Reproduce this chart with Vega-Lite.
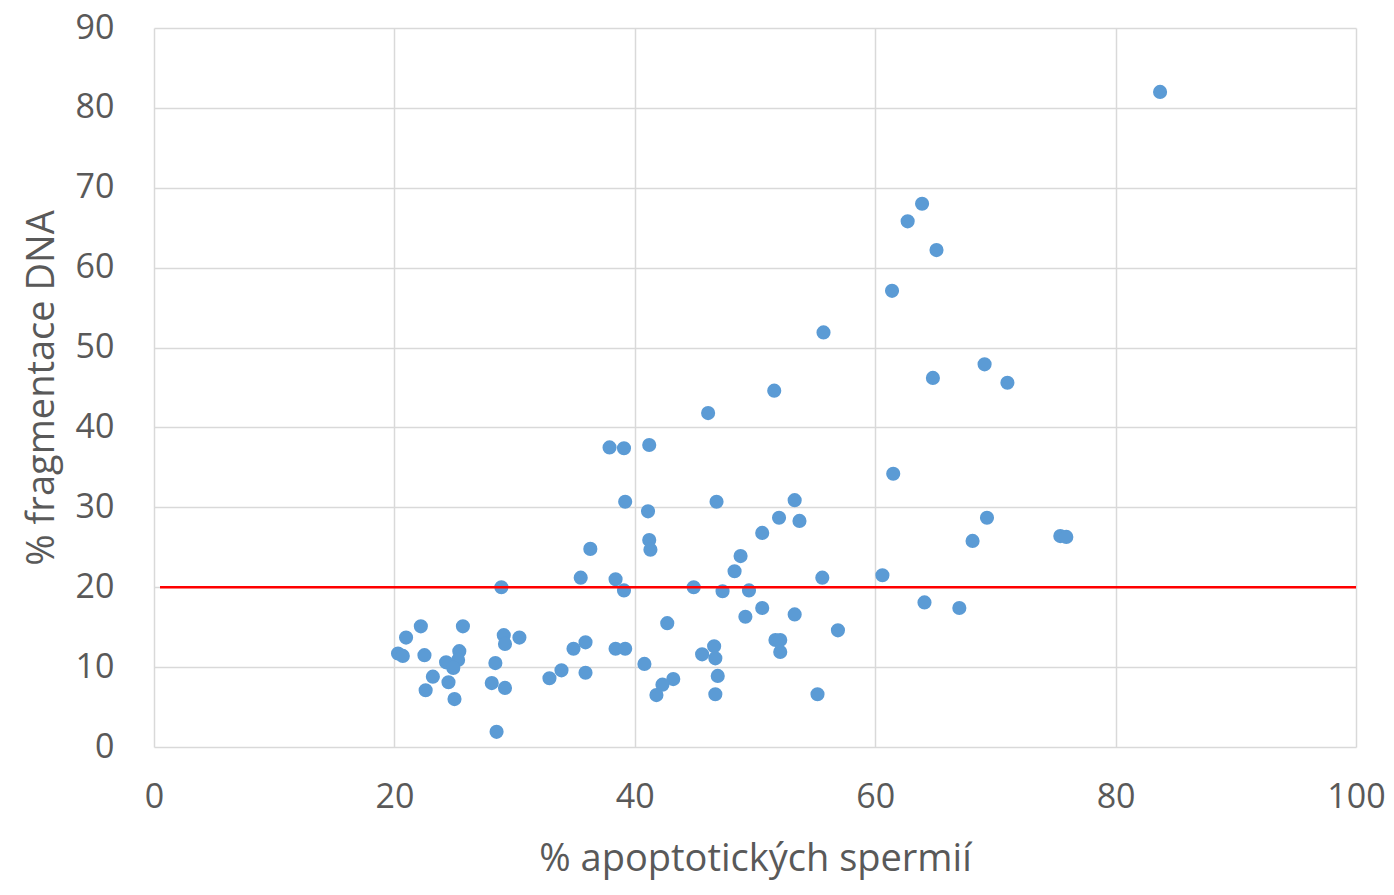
{
  "$schema": "https://vega.github.io/schema/vega-lite/v6.json",
  "autosize": "none",
  "padding": {"left": 154, "top": 28, "right": 38, "bottom": 148},
  "width": 1202,
  "height": 719,
  "background": "white",
  "config": {
    "view": {"stroke": null},
    "font": "Open Sans",
    "axis": {
      "gridColor": "#d9d9d9",
      "gridWidth": 1.5,
      "domain": false,
      "ticks": false,
      "labelFlush": false,
      "labelFont": "Open Sans",
      "labelFontSize": 34,
      "labelColor": "#595959",
      "titleFont": "Open Sans",
      "titleFontSize": 38,
      "titleFontWeight": "normal",
      "titleColor": "#595959"
    }
  },
  "layer": [
    {
      "data": {
        "values": [
          {"x": 83.7, "y": 82.0}, {"x": 63.9, "y": 68.0}, {"x": 62.7, "y": 65.8}, {"x": 65.1, "y": 62.2},
          {"x": 61.4, "y": 57.1}, {"x": 55.7, "y": 51.9}, {"x": 69.1, "y": 47.9}, {"x": 71.0, "y": 45.6},
          {"x": 64.8, "y": 46.2}, {"x": 51.6, "y": 44.6}, {"x": 46.1, "y": 41.8}, {"x": 41.2, "y": 37.8},
          {"x": 37.9, "y": 37.5}, {"x": 39.1, "y": 37.4}, {"x": 61.5, "y": 34.2}, {"x": 39.2, "y": 30.7},
          {"x": 46.8, "y": 30.7}, {"x": 53.3, "y": 30.9}, {"x": 41.1, "y": 29.5}, {"x": 52.0, "y": 28.7},
          {"x": 53.7, "y": 28.3}, {"x": 69.3, "y": 28.7}, {"x": 75.4, "y": 26.4}, {"x": 75.9, "y": 26.3},
          {"x": 41.2, "y": 25.9}, {"x": 50.6, "y": 26.8}, {"x": 68.1, "y": 25.8}, {"x": 36.3, "y": 24.8},
          {"x": 41.3, "y": 24.7}, {"x": 48.8, "y": 23.9}, {"x": 48.3, "y": 22.0}, {"x": 35.5, "y": 21.2},
          {"x": 38.4, "y": 21.0}, {"x": 55.6, "y": 21.2}, {"x": 60.6, "y": 21.5}, {"x": 28.9, "y": 20.0},
          {"x": 39.1, "y": 19.6}, {"x": 44.9, "y": 20.0}, {"x": 47.3, "y": 19.5}, {"x": 49.5, "y": 19.6},
          {"x": 64.1, "y": 18.1}, {"x": 67.0, "y": 17.4}, {"x": 50.6, "y": 17.4}, {"x": 53.3, "y": 16.6},
          {"x": 49.2, "y": 16.3}, {"x": 42.7, "y": 15.5}, {"x": 56.9, "y": 14.6}, {"x": 22.2, "y": 15.1},
          {"x": 25.7, "y": 15.1}, {"x": 29.1, "y": 14.0}, {"x": 30.4, "y": 13.7}, {"x": 20.97, "y": 13.7},
          {"x": 35.9, "y": 13.1}, {"x": 29.2, "y": 12.9}, {"x": 51.7, "y": 13.4}, {"x": 52.1, "y": 13.4},
          {"x": 46.6, "y": 12.6}, {"x": 34.9, "y": 12.3}, {"x": 38.4, "y": 12.3}, {"x": 39.2, "y": 12.3},
          {"x": 52.1, "y": 11.9}, {"x": 20.3, "y": 11.7}, {"x": 20.7, "y": 11.4}, {"x": 22.5, "y": 11.5},
          {"x": 25.4, "y": 12.0}, {"x": 45.6, "y": 11.6}, {"x": 46.7, "y": 11.1}, {"x": 24.3, "y": 10.6},
          {"x": 25.3, "y": 10.9}, {"x": 28.4, "y": 10.5}, {"x": 40.8, "y": 10.4}, {"x": 24.9, "y": 9.9},
          {"x": 33.9, "y": 9.6}, {"x": 35.9, "y": 9.3}, {"x": 23.2, "y": 8.8}, {"x": 32.9, "y": 8.6},
          {"x": 46.9, "y": 8.9}, {"x": 43.2, "y": 8.5}, {"x": 24.5, "y": 8.1}, {"x": 28.1, "y": 8.0},
          {"x": 42.3, "y": 7.8}, {"x": 29.2, "y": 7.4}, {"x": 22.6, "y": 7.1}, {"x": 41.8, "y": 6.5},
          {"x": 46.7, "y": 6.6}, {"x": 55.2, "y": 6.6}, {"x": 25.0, "y": 6.0}, {"x": 28.5, "y": 1.9}
        ]
      },
      "mark": {"type": "circle", "size": 200, "color": "#5B9BD5", "opacity": 1},
      "encoding": {
        "x": {
          "field": "x", "type": "quantitative",
          "scale": {"domain": [0, 100], "nice": false, "zero": true},
          "axis": {"values": [0, 20, 40, 60, 80, 100], "title": "% apoptotických spermií", "labelPadding": 33, "titlePadding": 26}
        },
        "y": {
          "field": "y", "type": "quantitative",
          "scale": {"domain": [0, 90], "nice": false},
          "axis": {"values": [0, 10, 20, 30, 40, 50, 60, 70, 80, 90], "title": "% fragmentace DNA", "labelPadding": 40, "titlePadding": 14}
        }
      }
    },
    {
      "data": {"values": [{"x1": 0.5, "x2": 100, "y": 20}]},
      "mark": {"type": "rule", "color": "#FF0000", "strokeWidth": 2.5},
      "encoding": {
        "x": {"field": "x1", "type": "quantitative"},
        "x2": {"field": "x2"},
        "y": {"field": "y", "type": "quantitative"}
      }
    }
  ]
}
